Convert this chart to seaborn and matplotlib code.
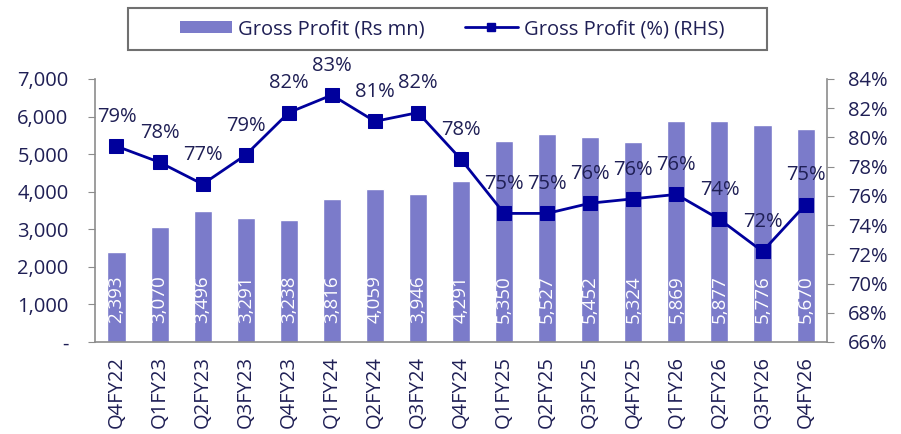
import matplotlib
matplotlib.use("Agg")
import matplotlib.pyplot as plt
from matplotlib.patches import Patch, Rectangle
from matplotlib.lines import Line2D
import numpy as np
import pandas as pd
import seaborn as sns

# %%
quarters = ["Q4FY22", "Q1FY23", "Q2FY23", "Q3FY23", "Q4FY23", "Q1FY24", "Q2FY24", "Q3FY24",
            "Q4FY24", "Q1FY25", "Q2FY25", "Q3FY25", "Q4FY25", "Q1FY26", "Q2FY26", "Q3FY26", "Q4FY26"]
gross_profit = [2393, 3070, 3496, 3291, 3238, 3816, 4059, 3946,
                4291, 5350, 5527, 5452, 5324, 5869, 5877, 5776, 5670]
gross_margin = [79.4, 78.3, 76.8, 78.8, 81.7, 82.9, 81.1, 81.7,
                78.5, 74.8, 74.8, 75.5, 75.8, 76.1, 74.4, 72.2, 75.4]

df = pd.DataFrame({"quarter": quarters, "gp": gross_profit, "gm": gross_margin})
df["pos"] = np.arange(len(df))

bar_col = "#7B7BCA"
line_col = "#00009C"
txt_col = "#1F1F55"
grey = "#8C8C8C"
fs = 14.5

# %%
sns.set_style("white")
plt.rcParams["font.family"] = ["Open Sans", "DejaVu Sans"]
plt.rcParams["text.color"] = txt_col

fig = plt.figure(figsize=(9.01, 4.34), dpi=100)
ax = fig.add_axes([0.1054, 0.212, 0.8126, 0.606])
sns.barplot(data=df, x="quarter", y="gp", color=bar_col, saturation=1, width=0.42, ax=ax)
ax.set_ylim(0, 7000)
ax.set_xlim(-0.5, len(df) - 0.5)
ax.set_yticks(np.arange(0, 7001, 1000))
ax.set_yticklabels(["-"] + [f"{v:,}" for v in range(1000, 7001, 1000)])
ax.set_xlabel("")
ax.set_ylabel("")

# bar value labels inside the bars
for i, v in enumerate(gross_profit):
    ax.annotate(f"{v:,}", xy=(i, 0), xycoords="data", xytext=(0, 14), textcoords="offset points",
                rotation=90, ha="center", va="bottom", color="white", fontsize=13.5)

ax2 = ax.twinx()
sns.lineplot(data=df, x="pos", y="gm", color=line_col, marker="s", markersize=10,
             markeredgecolor=line_col, linewidth=2, ax=ax2)
ax2.set_ylim(66, 84)
ax2.set_yticks(np.arange(66, 85, 2))
ax2.set_yticklabels([f"{v}%" for v in range(66, 85, 2)])
ax2.set_ylabel("")
ax2.set_xlabel("")
ax2.set_xlim(-0.5, len(df) - 0.5)

for i, v in enumerate(gross_margin):
    ax2.annotate(f"{round(v):.0f}%", xy=(i, v), xytext=(0, 21), textcoords="offset points",
                 ha="center", va="center", color=txt_col, fontsize=fs)

# ticks at category boundaries
ax.set_xticks(np.arange(len(df)))
ax.set_xticklabels(quarters, rotation=90, color=txt_col, fontsize=fs)
ax.set_xticks(np.arange(-0.5, len(df)), minor=True)
ax.tick_params(axis="x", which="major", length=0, pad=10)
ax.tick_params(axis="x", which="minor", length=6, color=grey, direction="out")
ax.tick_params(axis="y", length=5, color=grey, labelsize=fs, labelcolor=txt_col, left=True,
               direction="out", pad=14)
ax2.tick_params(axis="y", length=5, color=grey, labelsize=fs, labelcolor=txt_col, right=True,
                direction="out", pad=10)

for a in (ax, ax2):
    for s in a.spines.values():
        s.set_visible(False)
    a.grid(False)
ax.spines["left"].set_visible(True)
ax.spines["bottom"].set_visible(True)
ax2.spines["right"].set_visible(True)
for s in (ax.spines["left"], ax.spines["bottom"], ax2.spines["right"]):
    s.set_color(grey)
    s.set_linewidth(1.2)

# legend (frame drawn separately so the side padding can be wider than the top/bottom)
handles = [Patch(facecolor=bar_col, edgecolor="none", label="Gross Profit (Rs mn)"),
           Line2D([0], [0], color=line_col, marker="s", markersize=6, linewidth=2,
                  label="Gross Profit (%) (RHS)")]
leg = fig.legend(handles=handles, loc="center", bbox_to_anchor=(452 / 901, 1 - 29 / 434), ncol=2,
                 frameon=False, fontsize=fs, handlelength=2.6, handleheight=0.6,
                 handletextpad=0.3, columnspacing=2.0, borderpad=0, borderaxespad=0,
                 labelcolor=txt_col)
fig.patches.append(Rectangle((128 / 901, 1 - 50 / 434), 639 / 901, 42 / 434,
                             transform=fig.transFigure, fill=False, edgecolor="#707070",
                             linewidth=1.5))

fig.savefig("out.png", dpi=100)
